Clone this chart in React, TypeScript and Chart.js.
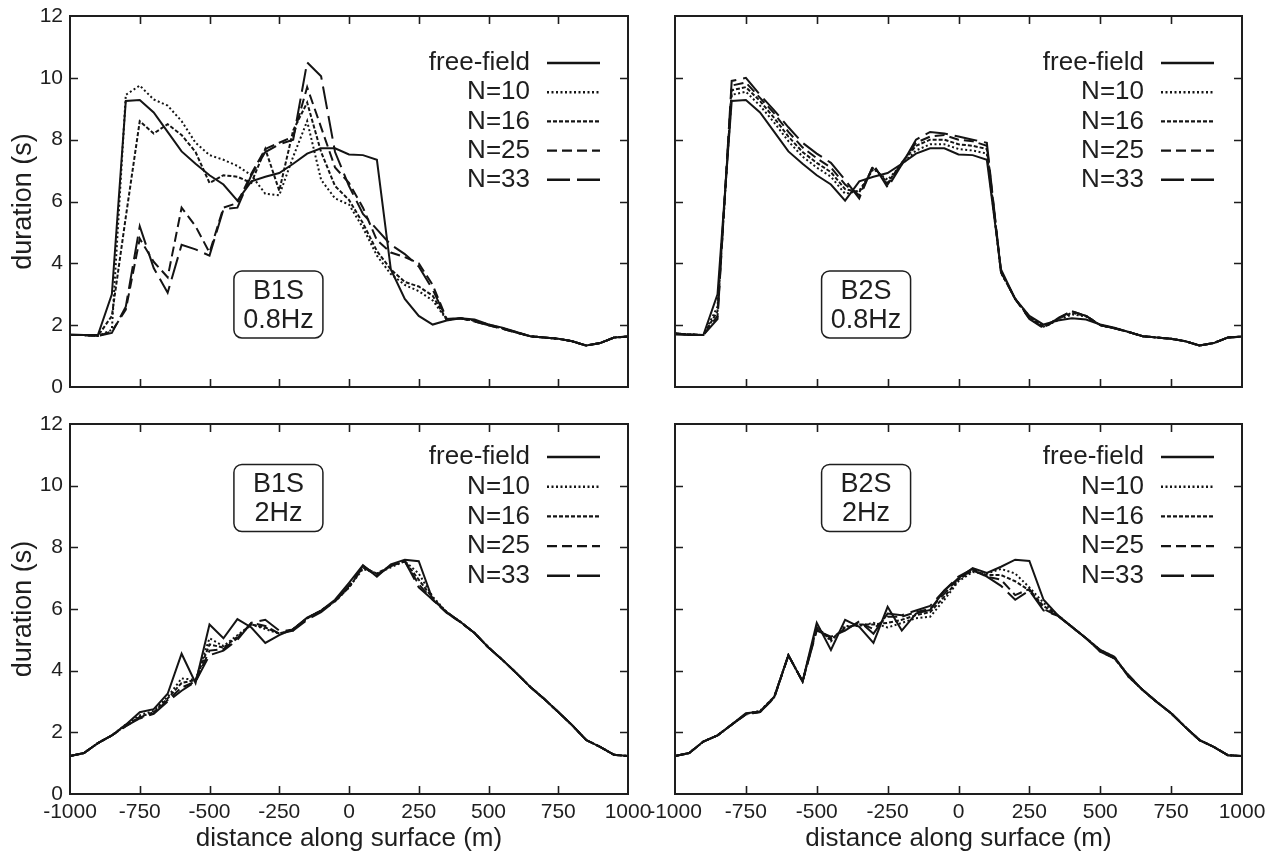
import React, { useEffect, useRef } from 'react';
import { Chart, registerables } from 'chart.js';

Chart.register(...registerables);

const FONT = "'Liberation Sans', Arial, Helvetica, sans-serif";
const INK = '#1e1e1e';
const LINE_INK = '#141414';

// ---------- data ----------
const DISTANCE = [
  -1000, -950, -900, -850, -800, -750, -700, -650, -600, -550,
  -500, -450, -400, -350, -300, -250, -200, -150, -100, -50,
  0, 50, 100, 150, 200, 250, 300, 350, 400, 450,
  500, 550, 600, 650, 700, 750, 800, 850, 900, 950,
  1000,
];

const X_TICKS = [-1000, -750, -500, -250, 0, 250, 500, 750, 1000];
const Y_TICKS = [0, 2, 4, 6, 8, 10, 12];

const SERIES_LABELS = ['free-field', 'N=10', 'N=16', 'N=25', 'N=33'];

// 0.8 Hz free-field (same for both basins' top panels)
const FREE_FIELD_08 = [
  1.70, 1.68, 1.68, 3.00, 9.25, 9.28, 8.88, 8.25, 7.62, 7.22,
  6.85, 6.55, 6.03, 6.65, 6.80, 6.92, 7.22, 7.55, 7.72, 7.72,
  7.52, 7.50, 7.35, 3.80, 2.85, 2.30, 2.02, 2.15, 2.22, 2.18,
  2.02, 1.92, 1.78, 1.64, 1.60, 1.56, 1.48, 1.34, 1.42, 1.60,
  1.63,
];

const B1S_08_N10 = [
  1.68, 1.68, 1.65, 1.85, 9.45, 9.75, 9.30, 9.10, 8.60, 7.90,
  7.50, 7.35, 7.15, 6.85, 6.25, 6.20, 7.45, 8.60, 6.70, 6.10,
  5.90, 5.15, 4.25, 3.65, 3.30, 3.10, 2.80, 2.18, 2.22, 2.15,
  2.02, 1.90, 1.77, 1.64, 1.60, 1.56, 1.48, 1.34, 1.42, 1.60,
  1.63,
];
const B1S_08_N16 = [
  1.68, 1.68, 1.65, 2.30, 5.50, 8.60, 8.20, 8.50, 8.15, 7.60,
  6.60, 6.85, 6.80, 6.60, 7.70, 6.35, 8.30, 9.20, 7.60, 6.50,
  6.05, 5.30, 4.40, 3.80, 3.40, 3.25, 2.95, 2.18, 2.22, 2.14,
  2.02, 1.90, 1.77, 1.64, 1.60, 1.56, 1.48, 1.34, 1.42, 1.60,
  1.63,
];
const B1S_08_N25 = [
  1.68, 1.68, 1.65, 1.80, 2.50, 4.80, 4.05, 3.55, 5.80, 5.20,
  4.35, 5.80, 5.95, 6.90, 7.70, 7.90, 8.10, 9.70, 8.40, 7.10,
  6.60, 5.80, 4.75, 4.35, 4.20, 4.00, 3.30, 2.20, 2.22, 2.12,
  2.00, 1.88, 1.76, 1.64, 1.60, 1.56, 1.48, 1.34, 1.42, 1.60,
  1.63,
];
const B1S_08_N33 = [
  1.68, 1.68, 1.65, 1.75, 2.60, 5.20, 3.85, 3.05, 4.60, 4.45,
  4.25, 5.75, 5.80, 6.85, 7.60, 7.85, 8.00, 10.50, 10.05, 7.60,
  6.50, 5.60, 5.10, 4.60, 4.30, 3.90, 3.15, 2.20, 2.22, 2.12,
  2.00, 1.88, 1.76, 1.64, 1.60, 1.56, 1.48, 1.34, 1.42, 1.60,
  1.63,
];

const B2S_08_N10 = [
  1.73, 1.70, 1.68, 2.60, 9.45, 9.55, 9.10, 8.55, 7.95, 7.45,
  7.10, 6.80, 6.25, 6.35, 7.05, 6.70, 7.20, 7.65, 7.85, 7.85,
  7.70, 7.65, 7.55, 3.70, 2.85, 2.28, 1.95, 2.15, 2.35, 2.28,
  2.00, 1.90, 1.78, 1.64, 1.60, 1.56, 1.48, 1.34, 1.42, 1.60,
  1.63,
];
const B2S_08_N16 = [
  1.73, 1.70, 1.68, 2.45, 9.60, 9.70, 9.25, 8.70, 8.10, 7.60,
  7.25, 6.95, 6.40, 6.30, 7.10, 6.60, 7.25, 7.80, 8.00, 8.00,
  7.85, 7.80, 7.70, 3.70, 2.85, 2.25, 1.95, 2.20, 2.40, 2.30,
  2.00, 1.90, 1.78, 1.64, 1.60, 1.56, 1.48, 1.34, 1.42, 1.60,
  1.63,
];
const B2S_08_N25 = [
  1.73, 1.70, 1.68, 2.30, 9.75, 9.85, 9.35, 8.85, 8.25, 7.75,
  7.40, 7.10, 6.55, 6.20, 7.15, 6.55, 7.25, 7.90, 8.10, 8.15,
  8.00, 7.95, 7.80, 3.72, 2.85, 2.22, 1.92, 2.22, 2.45, 2.30,
  2.00, 1.90, 1.78, 1.64, 1.60, 1.56, 1.48, 1.34, 1.42, 1.60,
  1.63,
];
const B2S_08_N33 = [
  1.73, 1.70, 1.68, 2.20, 9.90, 10.00, 9.45, 8.95, 8.40, 7.90,
  7.55, 7.25, 6.70, 6.10, 7.20, 6.45, 7.20, 8.00, 8.25, 8.20,
  8.10, 8.00, 7.90, 3.72, 2.85, 2.20, 1.90, 2.22, 2.45, 2.30,
  2.00, 1.90, 1.78, 1.64, 1.60, 1.56, 1.48, 1.34, 1.42, 1.60,
  1.63,
];

const B1S_2_FREE = [
  1.23, 1.33, 1.65, 1.90, 2.25, 2.65, 2.75, 3.25, 4.55, 3.60,
  5.50, 5.05, 5.67, 5.40, 4.90, 5.15, 5.35, 5.72, 5.95, 6.30,
  6.85, 7.42, 7.05, 7.45, 7.60, 7.55, 6.30, 5.90, 5.58, 5.22,
  4.75, 4.35, 3.92, 3.47, 3.08, 2.66, 2.23, 1.75, 1.53, 1.27,
  1.23,
];
const B1S_2_N10 = [
  1.23, 1.33, 1.65, 1.90, 2.25, 2.55, 2.70, 3.15, 3.75, 3.70,
  5.05, 4.80, 5.15, 5.50, 5.35, 5.20, 5.35, 5.70, 5.95, 6.25,
  6.70, 7.30, 7.15, 7.35, 7.55, 7.15, 6.40, 5.90, 5.58, 5.22,
  4.75, 4.35, 3.92, 3.47, 3.08, 2.66, 2.23, 1.75, 1.53, 1.27,
  1.23,
];
const B1S_2_N16 = [
  1.23, 1.33, 1.65, 1.90, 2.22, 2.50, 2.65, 3.10, 3.60, 3.70,
  4.85, 4.75, 5.10, 5.50, 5.40, 5.20, 5.35, 5.70, 5.95, 6.25,
  6.70, 7.35, 7.15, 7.40, 7.55, 6.95, 6.35, 5.90, 5.58, 5.22,
  4.75, 4.35, 3.92, 3.47, 3.08, 2.66, 2.23, 1.75, 1.53, 1.27,
  1.23,
];
const B1S_2_N25 = [
  1.23, 1.33, 1.65, 1.90, 2.20, 2.48, 2.62, 3.05, 3.45, 3.65,
  4.65, 4.70, 5.05, 5.55, 5.45, 5.20, 5.30, 5.70, 5.95, 6.25,
  6.75, 7.35, 7.10, 7.40, 7.55, 6.80, 6.30, 5.88, 5.57, 5.22,
  4.75, 4.35, 3.92, 3.47, 3.08, 2.66, 2.23, 1.75, 1.53, 1.27,
  1.23,
];
const B1S_2_N33 = [
  1.23, 1.33, 1.65, 1.90, 2.20, 2.45, 2.60, 3.00, 3.35, 3.65,
  4.50, 4.65, 5.00, 5.55, 5.65, 5.30, 5.30, 5.65, 5.90, 6.25,
  6.75, 7.40, 7.10, 7.40, 7.55, 6.70, 6.30, 5.88, 5.57, 5.22,
  4.75, 4.35, 3.92, 3.47, 3.08, 2.66, 2.23, 1.75, 1.53, 1.27,
  1.23,
];

const B2S_2_FREE = [
  1.23, 1.33, 1.70, 1.90, 2.25, 2.62, 2.67, 3.15, 4.50, 3.65,
  5.55, 4.67, 5.65, 5.42, 4.90, 6.07, 5.30, 5.85, 5.97, 6.60,
  7.00, 7.33, 7.17, 7.37, 7.60, 7.56, 6.30, 5.80, 5.42, 5.05,
  4.67, 4.45, 3.80, 3.37, 2.98, 2.62, 2.17, 1.75, 1.53, 1.26,
  1.23,
];
const B2S_2_N10 = [
  1.23, 1.33, 1.70, 1.90, 2.25, 2.60, 2.70, 3.15, 4.50, 3.65,
  5.45, 4.95, 5.45, 5.45, 5.55, 5.40, 5.55, 5.70, 5.75, 6.30,
  6.90, 7.20, 7.15, 7.30, 7.15, 6.70, 6.20, 5.80, 5.42, 5.05,
  4.67, 4.45, 3.80, 3.37, 2.98, 2.62, 2.17, 1.75, 1.53, 1.26,
  1.23,
];
const B2S_2_N16 = [
  1.23, 1.33, 1.70, 1.90, 2.25, 2.60, 2.68, 3.15, 4.50, 3.65,
  5.40, 5.00, 5.40, 5.50, 5.50, 5.55, 5.65, 5.80, 5.90, 6.40,
  6.95, 7.25, 7.10, 7.10, 6.90, 6.60, 6.10, 5.80, 5.42, 5.05,
  4.67, 4.40, 3.82, 3.37, 2.98, 2.62, 2.17, 1.75, 1.53, 1.26,
  1.23,
];
const B2S_2_N25 = [
  1.23, 1.33, 1.70, 1.90, 2.25, 2.58, 2.66, 3.12, 4.50, 3.65,
  5.35, 5.05, 5.35, 5.55, 5.35, 5.75, 5.75, 5.90, 6.00, 6.50,
  7.00, 7.25, 7.05, 6.95, 6.45, 6.65, 6.00, 5.78, 5.42, 5.05,
  4.62, 4.40, 3.85, 3.37, 2.98, 2.62, 2.17, 1.75, 1.53, 1.26,
  1.23,
];
const B2S_2_N33 = [
  1.23, 1.33, 1.70, 1.90, 2.25, 2.58, 2.66, 3.12, 4.50, 3.65,
  5.30, 5.10, 5.30, 5.60, 5.20, 5.85, 5.80, 5.95, 6.10, 6.60,
  7.05, 7.30, 7.05, 6.75, 6.30, 6.60, 5.95, 5.78, 5.42, 5.05,
  4.62, 4.40, 3.85, 3.37, 2.98, 2.62, 2.17, 1.75, 1.53, 1.26,
  1.23,
];

// ---------- styles ----------
const SERIES_DASHES: number[][] = [[], [2, 2.5], [4, 2], [10, 5], [23, 7]];

type PanelCfg = {
  left: number; top: number; w: number; h: number;
  padTop: number; padRight: number; yAxisW: number; xAxisH: number;
  xLabels: boolean; yLabels: boolean;
  series: number[][];
  box: string[]; boxX: number; boxY: number;
  legendTop: number; legendGap: number;
};

const PANELS: PanelCfg[] = [
  {
    left: 0, top: 0, w: 660, h: 400, padTop: 16, padRight: 32, yAxisW: 70, xAxisH: 13,
    xLabels: false, yLabels: true,
    series: [FREE_FIELD_08, B1S_08_N10, B1S_08_N16, B1S_08_N25, B1S_08_N33],
    box: ['B1S', '0.8Hz'], boxX: -253, boxY: 2.67, legendTop: 47, legendGap: 29.2,
  },
  {
    left: 630, top: 0, w: 641, h: 400, padTop: 16, padRight: 29, yAxisW: 45, xAxisH: 13,
    xLabels: false, yLabels: false,
    series: [FREE_FIELD_08, B2S_08_N10, B2S_08_N16, B2S_08_N25, B2S_08_N33],
    box: ['B2S', '0.8Hz'], boxX: -326, boxY: 2.67, legendTop: 47, legendGap: 29.2,
  },
  {
    left: 0, top: 400, w: 660, h: 461, padTop: 24, padRight: 32, yAxisW: 70, xAxisH: 67,
    xLabels: true, yLabels: true,
    series: [B1S_2_FREE, B1S_2_N10, B1S_2_N16, B1S_2_N25, B1S_2_N33],
    box: ['B1S', '2Hz'], boxX: -253, boxY: 9.6, legendTop: 33, legendGap: 29.7,
  },
  {
    left: 630, top: 400, w: 641, h: 461, padTop: 24, padRight: 29, yAxisW: 45, xAxisH: 67,
    xLabels: true, yLabels: false,
    series: [B2S_2_FREE, B2S_2_N10, B2S_2_N16, B2S_2_N25, B2S_2_N33],
    box: ['B2S', '2Hz'], boxX: -326, boxY: 9.6, legendTop: 33, legendGap: 29.7,
  },
];

// ---------- plugins ----------
const framePlugin = {
  id: 'frameTicks',
  afterDatasetsDraw(chart: any) {
    const { ctx, chartArea, scales } = chart;
    const { left, right, top, bottom } = chartArea;
    const xs = scales.x;
    const ys = scales.y;
    ctx.save();
    ctx.strokeStyle = INK;
    ctx.setLineDash([]);
    ctx.lineWidth = 1.6;
    const tl = 8;
    ctx.beginPath();
    for (const v of X_TICKS) {
      const px = Math.round(xs.getPixelForValue(v)) + 0.5;
      if (px <= left + 2 || px >= right - 2) continue;
      ctx.moveTo(px, bottom); ctx.lineTo(px, bottom - tl);
      ctx.moveTo(px, top); ctx.lineTo(px, top + tl);
    }
    for (const v of Y_TICKS) {
      const py = Math.round(ys.getPixelForValue(v)) + 0.5;
      if (py <= top + 2 || py >= bottom - 2) continue;
      ctx.moveTo(left, py); ctx.lineTo(left + tl, py);
      ctx.moveTo(right, py); ctx.lineTo(right - tl, py);
    }
    ctx.stroke();
    ctx.lineWidth = 2;
    ctx.strokeRect(left, top, right - left, bottom - top);
    ctx.restore();
  },
};

const decorPlugin = {
  id: 'panelDecor',
  afterDraw(chart: any, _args: any, opts: any) {
    const { ctx, chartArea, scales } = chart;
    const xs = scales.x;
    const ys = scales.y;
    ctx.save();
    // label box
    const cx = xs.getPixelForValue(opts.boxX);
    const cy = ys.getPixelForValue(opts.boxY);
    const bw = 89, bh = 67;
    ctx.strokeStyle = INK;
    ctx.lineWidth = 1.5;
    ctx.setLineDash([]);
    ctx.beginPath();
    (ctx as any).roundRect(cx - bw / 2, cy - bh / 2, bw, bh, 8);
    ctx.stroke();
    ctx.fillStyle = INK;
    ctx.font = `27px ${FONT}`;
    ctx.textAlign = 'center';
    ctx.textBaseline = 'middle';
    ctx.fillText(opts.box[0], cx, cy - 13);
    ctx.fillText(opts.box[1], cx, cy + 16);
    // legend
    ctx.font = `26px ${FONT}`;
    ctx.textAlign = 'right';
    SERIES_LABELS.forEach((label, i) => {
      const yy = chartArea.top + opts.legendTop + i * opts.legendGap;
      ctx.fillStyle = INK;
      ctx.fillText(label, chartArea.right - 98, yy);
      ctx.beginPath();
      ctx.setLineDash(SERIES_DASHES[i]);
      ctx.strokeStyle = LINE_INK;
      ctx.lineWidth = 2.4;
      ctx.moveTo(chartArea.right - 81, yy);
      ctx.lineTo(chartArea.right - 28, yy);
      ctx.stroke();
    });
    ctx.restore();
  },
};

function Panel({ cfg }: { cfg: PanelCfg }) {
  const ref = useRef<HTMLCanvasElement>(null);
  useEffect(() => {
    if (!ref.current) return;
    const order = [1, 2, 3, 4, 0];
    const datasets = order.map((si) => ({
      label: SERIES_LABELS[si],
      data: DISTANCE.map((x, i) => ({ x, y: cfg.series[si][i] })),
      borderColor: LINE_INK,
      borderWidth: 2,
      borderDash: SERIES_DASHES[si],
      pointRadius: 0,
      fill: false,
      tension: 0,
    }));
    const chart = new Chart(ref.current, {
      type: 'line',
      data: { datasets },
      plugins: [framePlugin, decorPlugin],
      options: {
        responsive: false,
        animation: false,
        devicePixelRatio: 1,
        events: [],
        layout: { padding: { left: 0, top: cfg.padTop, right: cfg.padRight, bottom: 0 } },
        plugins: {
          legend: { display: false },
          tooltip: { enabled: false },
          panelDecor: { box: cfg.box, boxX: cfg.boxX, boxY: cfg.boxY, legendTop: cfg.legendTop, legendGap: cfg.legendGap },
        } as any,
        scales: {
          x: {
            type: 'linear',
            min: -1000,
            max: 1000,
            afterBuildTicks: (a: any) => { a.ticks = X_TICKS.map((value) => ({ value })); },
            afterFit: (s: any) => { s.height = cfg.xAxisH; s.paddingLeft = 0; s.paddingRight = 0; },
            grid: { display: false, drawTicks: false },
            border: { display: false },
            ticks: {
              display: cfg.xLabels,
              autoSkip: false,
              maxRotation: 0,
              padding: 6,
              color: INK,
              font: { family: FONT, size: 21 },
              callback: (v: any) => String(v),
            },
            title: {
              display: cfg.xLabels,
              text: 'distance along surface (m)',
              color: INK,
              font: { family: FONT, size: 26 },
              padding: { top: 0, bottom: 7 },
            },
          },
          y: {
            type: 'linear',
            min: 0,
            max: 12,
            afterBuildTicks: (a: any) => { a.ticks = Y_TICKS.map((value) => ({ value })); },
            afterFit: (s: any) => { s.width = cfg.yAxisW; s.paddingTop = 0; s.paddingBottom = 0; },
            grid: { display: false, drawTicks: false },
            border: { display: false },
            ticks: {
              display: cfg.yLabels,
              padding: 7,
              color: INK,
              font: { family: FONT, size: 21 },
              callback: (v: any) => String(v),
            },
            title: {
              display: cfg.yLabels,
              text: 'duration (s)',
              color: INK,
              font: { family: FONT, size: 27 },
              padding: { top: 7, bottom: 0 },
            },
          },
        } as any,
      },
    } as any);
    return () => chart.destroy();
  }, [cfg]);
  return (
    <canvas
      ref={ref}
      width={cfg.w}
      height={cfg.h}
      style={{ position: 'absolute', left: cfg.left, top: cfg.top, width: cfg.w, height: cfg.h, display: 'block' }}
    />
  );
}

export default function App() {
  return (
    <div style={{ position: 'absolute', left: 0, top: 0, width: 1271, height: 861, background: '#fff', overflow: 'hidden' }}>
      {PANELS.map((p, i) => (
        <Panel key={i} cfg={p} />
      ))}
    </div>
  );
}
